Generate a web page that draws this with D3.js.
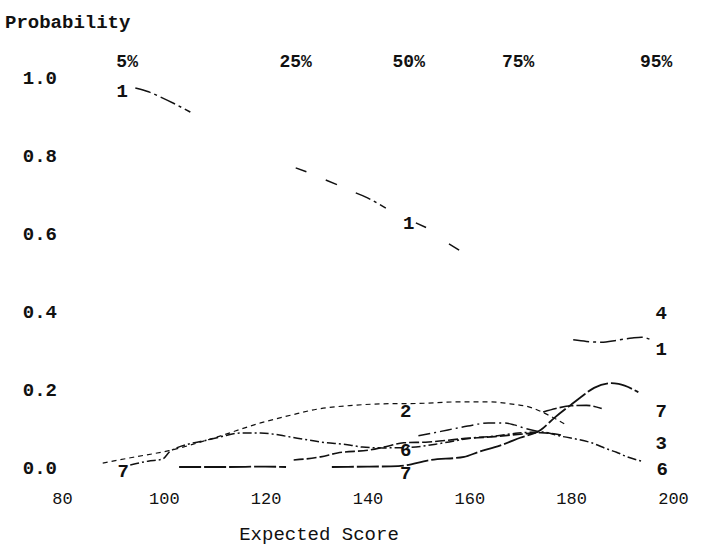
<!DOCTYPE html>
<html><head><meta charset="utf-8">
<script src="https://cdn.jsdelivr.net/npm/d3@7"></script>
<style>
body{margin:0;background:#fff;}
svg{display:block;}
text{font-family:"Liberation Mono","DejaVu Sans Mono",monospace;fill:#111;}
</style></head><body>
<svg id="c" width="713" height="548"></svg>
<script>
// ---- data ----
const yTicks = [0.0, 0.2, 0.4, 0.6, 0.8, 1.0];
const xTicks = [80, 100, 120, 140, 160, 180, 200];
const pctLabels = ["5%", "25%", "50%", "75%", "95%"];
const pctScores = [92.8, 125.9, 148.1, 169.6, 196.7];

// [expected score, probability]; null = not readable in the scan
const cat1 = [[94.4,0.972],[97,0.962],[99.3,0.949],[102,0.932],[105.2,0.91],null,
  [125.9,0.767],[128,0.757],null,[131.8,0.736],[134,0.724],null,[137.7,0.703],[140,0.69],[143.6,0.664],null,
  [149.5,0.626],[151.5,0.614],null,[156,0.572],[158,0.556],null,
  [180.4,0.326],[183,0.322],[185.9,0.32],[189,0.325],[192,0.331],[193.8,0.333],[195.7,0.326]];
const cat2 = [[88,0.01],[94,0.025],[101,0.042],[110,0.075],[119,0.113],[125,0.133],[130,0.148],[137,0.158],
  [143,0.162],[150,0.163],[158,0.167],[164,0.167],[168,0.162],[172,0.153],[176,0.13],[179,0.108]];
const cat3 = [[125.5,0.018],[130.8,0.026],[134.1,0.036],[140.6,0.044],[143.2,0.051],[147.1,0.062],
  [152,0.064],[158.3,0.072],[165,0.078],[170,0.084],[174,0.088],[178,0.082]];
const cat4 = [[174.5,0.141],[177,0.15],[180,0.157],[183,0.158],[186,0.15]];
const cat5 = [[150,0.08],[152.8,0.087],[155.8,0.095],[159.7,0.105],[163.7,0.113],[166.8,0.113],
  [168.8,0.108],[170.7,0.1],[174,0.09]];
const cat6 = [[93.4,0.005],[96.9,0.015],[99.7,0.02],[101.3,0.041],[108.5,0.069],[111.1,0.077],[115,0.087],
  [119,0.087],[124.9,0.077],[130.8,0.064],[136.7,0.056],[139,0.051],[143,0.049],[148,0.05],[155,0.062],
  [160.3,0.074],[164.8,0.079],[169.6,0.087],[174,0.09],[178,0.079],[184,0.062],[187.5,0.044],
  [188.9,0.038],[191,0.026],[193.8,0.015]];
const cat7 = [[103,0.0],[112,0.0],[120,0.001],[124,0.0],null,[133,0.0],[140,0.001],[146,0.002],
  [152.4,0.018],[159,0.026],[161.7,0.038],[166,0.055],[170,0.075],[174,0.095],[176.7,0.126],
  [180,0.16],[182,0.18],[184.5,0.203],[187.9,0.215],[189.3,0.213],[193.2,0.192]];

const seriesNames = ["1","2","3","4","5","6","7"];
const seriesData = [cat1, cat2, cat3, cat4, cat5, cat6, cat7];

// line labels: [text, score, probability]
const lineLabels = [["1",91.8,0.967],["7",92,-0.008],
  ["1",148.1,0.628],["2",147.5,0.146],["6",147.5,0.044],["7",147.5,-0.013],
  ["4",197.7,0.397],["1",197.7,0.305],["7",197.7,0.146],["3",197.7,0.062],["6",197.9,-0.003]];

// ---- drawing ----
const svg = d3.select("#c");
const x = d3.scaleLinear().domain([80, 200]).range([62, 673]);
const y = d3.scaleLinear().domain([0, 1]).range([467, 77]);

const dashes = {"1":"16,4,3,4","2":"5,4","3":"10,3","4":"14,3","5":"12,4,2,4","6":"9,3,2,3","7":"22,3"};
const widths = {"1":1.5,"2":1.2,"3":1.6,"4":1.6,"5":1.4,"6":1.5,"7":1.8};

const line = d3.line()
  .defined(d => d !== null)
  .x(d => x(d[0])).y(d => y(d[1]))
  .curve(d3.curveMonotoneX);

svg.append("g").selectAll("path")
  .data(seriesData)
  .join("path")
  .attr("d", d => line(d))
  .attr("fill", "none")
  .attr("stroke", "#111")
  .attr("stroke-width", (d,i) => widths[seriesNames[i]])
  .attr("stroke-dasharray", (d,i) => dashes[seriesNames[i]]);

// y axis
const ya = svg.append("g").attr("transform", "translate(60,0)")
  .call(d3.axisLeft(y).tickValues(yTicks).tickFormat(d3.format(".1f")).tickSize(0).tickPadding(3));
ya.select(".domain").remove();
ya.selectAll("text").style("font-size","19px").style("font-weight","bold")
  .style("font-family","'Liberation Mono',monospace");

// x axis
const xa = svg.append("g").attr("transform", "translate(0,492)")
  .call(d3.axisBottom(x).tickValues(xTicks).tickFormat(d3.format("d")).tickSize(0).tickPadding(0));
xa.select(".domain").remove();
xa.selectAll("text").style("font-size","17px").style("font-family","'Liberation Mono',monospace");

// percentile labels on top
svg.append("g").selectAll("text")
  .data(pctLabels)
  .join("text")
  .attr("x", (d,i) => x(pctScores[i]))
  .attr("y", 67)
  .attr("text-anchor","middle")
  .style("font-size","18px").style("font-weight","bold")
  .text(d => d);

// line labels
svg.append("g").selectAll("text")
  .data(lineLabels)
  .join("text")
  .attr("x", d => x(d[1]))
  .attr("y", d => y(d[2]))
  .attr("dy", "0.35em")
  .attr("text-anchor","middle")
  .style("font-size","19px").style("font-weight","bold")
  .text(d => d[0]);

// titles
svg.append("text").attr("x", 5).attr("y", 28)
  .style("font-size","19px").style("font-weight","bold").text("Probability");
svg.append("text").attr("x", 319).attr("y", 540).attr("text-anchor","middle")
  .style("font-size","19px").text("Expected Score");
</script>
</body></html>
